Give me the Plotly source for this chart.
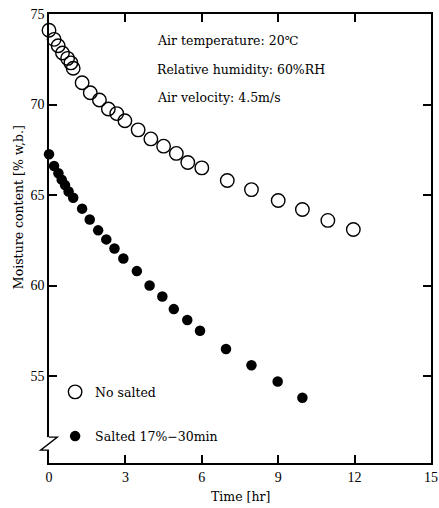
import plotly.graph_objects as go

# ---- data ----
open_t = [0, 0.2, 0.36, 0.53, 0.73, 0.86, 0.95, 1.3, 1.62, 1.98, 2.33, 2.66, 2.98,
          3.5, 4.0, 4.5, 5.0, 5.45, 6.0, 7.0, 7.95, 9.0, 9.95, 10.95, 11.95]
open_y = [74.1, 73.6, 73.25, 72.85, 72.55, 72.3, 72.0, 71.2, 70.65, 70.25, 69.75, 69.5, 69.1,
          68.6, 68.1, 67.7, 67.3, 66.8, 66.5, 65.8, 65.3, 64.7, 64.2, 63.6, 63.1]

fill_t = [0, 0.2, 0.37, 0.5, 0.63, 0.77, 0.95, 1.3, 1.6, 1.93, 2.25, 2.57, 2.92,
          3.45, 3.95, 4.45, 4.9, 5.43, 5.93, 6.95, 7.95, 8.98, 9.95]
fill_y = [67.25, 66.6, 66.2, 65.85, 65.55, 65.2, 64.85, 64.25, 63.65, 63.05, 62.55, 62.05, 61.5,
          60.8, 60.0, 59.4, 58.7, 58.1, 57.5, 56.5, 55.6, 54.7, 53.8]

x_ticks = [0, 3, 6, 9, 12, 15]
y_ticks = [55, 60, 65, 70, 75]
series_names = ["No salted", "Salted 17%\u221230min"]
conditions = ["Air temperature: 20\u2103", "Relative humidity: 60%RH", "Air velocity: 4.5m/s"]

TFONT = "DejaVu Serif"
NFONT = "Liberation Serif"
TSIZE = 12.5

fig = go.Figure()
fig.add_trace(go.Scatter(
    x=open_t, y=open_y, mode="markers", name=series_names[0],
    legendgroup="a", cliponaxis=False,
    marker=dict(symbol="circle-open", size=13.5, color="black", line=dict(width=1.4, color="black")),
))
fig.add_trace(go.Scatter(
    x=fill_t, y=fill_y, mode="markers", name=series_names[1],
    legendgroup="b", cliponaxis=False,
    marker=dict(symbol="circle", size=10.5, color="black"),
))

axis_common = dict(
    showline=True, linecolor="black", linewidth=1.5, mirror="ticks",
    ticks="inside", ticklen=8, tickwidth=1.5, tickcolor="black",
    showgrid=False, zeroline=False, automargin=False,
    tickfont=dict(family=NFONT, size=14, color="black"),
)

fig.update_xaxes(range=[0, 15], tickvals=x_ticks, **axis_common)
fig.update_yaxes(range=[50.2, 75], tickvals=y_ticks, **axis_common)

# axis break on y-axis
brk_top, brk_bot = 51.63, 50.91
fig.add_shape(type="line", xref="paper", yref="y", x0=0, x1=0, y0=brk_bot, y1=brk_top,
              line=dict(color="white", width=4), layer="above")
fig.add_shape(type="path", xref="paper", yref="y",
              path=f"M 0 {brk_top} L 0.022 {brk_top} L -0.022 {brk_bot} L 0 {brk_bot}",
              line=dict(color="black", width=1.3), layer="above")

ann = []
for txt, yp in zip(conditions, [0.942, 0.877, 0.815]):
    ann.append(dict(text=txt, x=0.277, y=yp, xref="paper", yref="paper",
                    xanchor="left", yanchor="middle", showarrow=False,
                    font=dict(family=TFONT, size=TSIZE, color="black")))
ann.append(dict(text="Moisture content [% w,b.]", x=-0.081, y=0.57, xref="paper", yref="paper",
                textangle=-90, xanchor="center", yanchor="middle", showarrow=False,
                font=dict(family=TFONT, size=TSIZE, color="black")))
ann.append(dict(text="Time [hr]", x=0.5, y=-0.0757, xref="paper", yref="paper",
                xanchor="center", yanchor="middle", showarrow=False,
                font=dict(family=TFONT, size=TSIZE, color="black")))

fig.update_layout(
    width=439, height=508,
    margin=dict(l=49, r=8, t=14, b=45),
    paper_bgcolor="white", plot_bgcolor="white",
    annotations=ann,
    showlegend=True,
    legend=dict(x=0.016, y=0.191, xanchor="left", yanchor="top",
                bgcolor="rgba(0,0,0,0)", tracegroupgap=25,
                font=dict(family=TFONT, size=TSIZE, color="black")),
)

fig.write_html("out.html")
